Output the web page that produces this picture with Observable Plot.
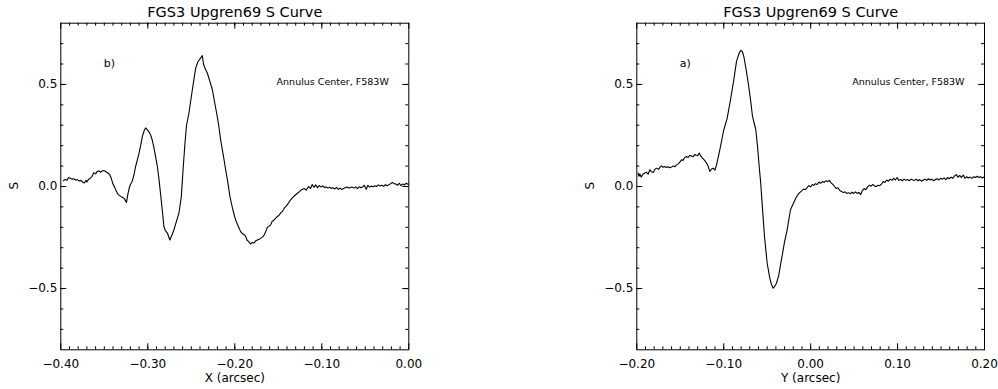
<!DOCTYPE html>
<html>
<head>
<meta charset="utf-8">
<script src="https://cdn.jsdelivr.net/npm/d3@7"></script>
<script src="https://cdn.jsdelivr.net/npm/@observablehq/plot@0.6"></script>
<style>
  body { margin: 0; background: #fff; }
  #wrap { position: relative; width: 998px; height: 389px; background: #fff; overflow: hidden; }
  #wrap > svg { position: absolute; top: 0; }
</style>
</head>
<body>
<div id="wrap"></div>
<script>
// ---------- data ----------
const titleText = "FGS3 Upgren69 S Curve";
const annotText = "Annulus Center, F583W";
const yLabelText = "S";

// Panel b): S curve along X
const xPosB = [-0.397,-0.395,-0.393,-0.391,-0.389,-0.387,-0.385,-0.383,-0.381,-0.379,-0.377,-0.375,-0.373,-0.371,-0.370,-0.368,-0.366,-0.364,-0.362,-0.360,-0.358,-0.356,-0.354,-0.352,-0.350,-0.348,-0.346,-0.344,-0.342,-0.340,-0.338,-0.336,-0.334,-0.332,-0.330,-0.328,-0.326,-0.3245,-0.323,-0.3215,-0.320,-0.318,-0.316,-0.314,-0.312,-0.310,-0.308,-0.306,-0.304,-0.3025,-0.301,-0.299,-0.297,-0.295,-0.293,-0.291,-0.289,-0.287,-0.285,-0.283,-0.2815,-0.280,-0.2775,-0.2746,-0.272,-0.270,-0.267,-0.2642,-0.2615,-0.2592,-0.2575,-0.2555,-0.2527,-0.2488,-0.245,-0.2425,-0.2405,-0.2385,-0.2373,-0.236,-0.2347,-0.233,-0.2316,-0.229,-0.2258,-0.2235,-0.2209,-0.2185,-0.2163,-0.2135,-0.2105,-0.208,-0.2056,-0.203,-0.2002,-0.1985,-0.197,-0.1955,-0.1933,-0.191,-0.189,-0.1875,-0.186,-0.184,-0.1818,-0.180,-0.178,-0.176,-0.174,-0.172,-0.170,-0.168,-0.1665,-0.1645,-0.1626,-0.1605,-0.1588,-0.157,-0.155,-0.153,-0.151,-0.149,-0.147,-0.1453,-0.143,-0.141,-0.139,-0.137,-0.1358,-0.133,-0.131,-0.128,-0.126,-0.124,-0.1223,-0.120,-0.118,-0.1165,-0.115,-0.113,-0.111,-0.109,-0.107,-0.105,-0.103,-0.101,-0.099,-0.097,-0.095,-0.093,-0.091,-0.089,-0.087,-0.085,-0.083,-0.081,-0.079,-0.077,-0.075,-0.073,-0.071,-0.069,-0.067,-0.065,-0.063,-0.061,-0.059,-0.057,-0.055,-0.053,-0.051,-0.049,-0.047,-0.045,-0.043,-0.041,-0.039,-0.037,-0.035,-0.033,-0.031,-0.029,-0.027,-0.025,-0.023,-0.021,-0.019,-0.017,-0.015,-0.013,-0.011,-0.009,-0.007,-0.005,-0.003,-0.001,0.000];
const sValB = [0.028,0.035,0.030,0.044,0.040,0.036,0.038,0.031,0.034,0.027,0.030,0.022,0.017,0.030,0.022,0.036,0.041,0.050,0.068,0.062,0.074,0.076,0.070,0.078,0.077,0.072,0.066,0.060,0.040,0.012,-0.005,-0.025,-0.040,-0.046,-0.052,-0.056,-0.066,-0.078,-0.040,-0.010,0.010,0.025,0.055,0.098,0.130,0.165,0.205,0.250,0.275,0.287,0.280,0.270,0.255,0.229,0.190,0.145,0.098,0.030,-0.049,-0.130,-0.196,-0.215,-0.228,-0.262,-0.235,-0.212,-0.170,-0.130,-0.050,0.098,0.200,0.300,0.360,0.474,0.580,0.610,0.622,0.634,0.641,0.600,0.584,0.568,0.556,0.520,0.474,0.420,0.360,0.300,0.229,0.160,0.082,0.020,-0.049,-0.100,-0.147,-0.170,-0.185,-0.200,-0.221,-0.232,-0.236,-0.245,-0.262,-0.270,-0.282,-0.274,-0.277,-0.266,-0.262,-0.258,-0.253,-0.247,-0.240,-0.222,-0.200,-0.194,-0.188,-0.170,-0.165,-0.155,-0.147,-0.140,-0.128,-0.122,-0.105,-0.096,-0.085,-0.072,-0.065,-0.052,-0.044,-0.033,-0.026,-0.018,-0.013,-0.010,-0.018,-0.008,0.000,-0.010,0.010,-0.004,0.008,-0.006,0.004,-0.002,0.003,-0.005,-0.002,-0.008,-0.003,-0.010,-0.006,-0.012,-0.004,-0.014,-0.008,-0.015,-0.010,-0.006,-0.002,-0.008,-0.004,-0.003,-0.008,-0.002,-0.010,-0.001,-0.006,-0.002,0.006,-0.014,0.006,-0.003,0.002,-0.001,0.004,0.000,0.008,0.003,0.006,0.001,0.009,0.004,0.008,0.013,0.020,0.014,0.012,0.006,0.016,0.004,0.012,0.008,0.016,0.011,0.012];

// Panel a): S curve along Y
const yPosA = [-0.1985,-0.1975,-0.1965,-0.195,-0.193,-0.1908,-0.189,-0.187,-0.185,-0.183,-0.181,-0.179,-0.1773,-0.175,-0.173,-0.1716,-0.170,-0.168,-0.1658,-0.164,-0.162,-0.1601,-0.158,-0.156,-0.1543,-0.152,-0.150,-0.1486,-0.147,-0.145,-0.1428,-0.141,-0.139,-0.1371,-0.135,-0.1335,-0.1321,-0.130,-0.1282,-0.1265,-0.1244,-0.122,-0.1198,-0.118,-0.116,-0.114,-0.1121,-0.110,-0.1083,-0.1045,-0.0999,-0.096,-0.0922,-0.0884,-0.0853,-0.0825,-0.0804,-0.0785,-0.0769,-0.0745,-0.0718,-0.069,-0.0669,-0.0631,-0.0610,-0.0592,-0.0575,-0.0557,-0.0531,-0.050,-0.047,-0.045,-0.0431,-0.0412,-0.0393,-0.0366,-0.0347,-0.0328,-0.030,-0.0270,-0.0232,-0.0194,-0.0174,-0.0155,-0.0135,-0.0117,-0.0100,-0.0080,-0.0060,-0.0040,-0.0020,0.0000,0.0020,0.0036,0.0055,0.0075,0.0095,0.0115,0.0135,0.0155,0.0175,0.0195,0.0215,0.0235,0.0255,0.0275,0.0295,0.0315,0.0335,0.0355,0.0375,0.0395,0.0415,0.0435,0.0455,0.0475,0.0495,0.0515,0.0535,0.0555,0.0575,0.0595,0.0615,0.0635,0.0655,0.0675,0.0695,0.0715,0.0735,0.0755,0.0775,0.0795,0.0815,0.0835,0.0855,0.0875,0.0895,0.0915,0.0935,0.0955,0.0975,0.0995,0.1015,0.1035,0.1055,0.1075,0.1095,0.1115,0.1135,0.1155,0.1175,0.1195,0.1215,0.1235,0.1255,0.1275,0.1295,0.1315,0.1335,0.1355,0.1375,0.1395,0.1415,0.1435,0.1455,0.1475,0.1495,0.1515,0.1535,0.1555,0.1575,0.1595,0.1615,0.1635,0.1655,0.1675,0.1695,0.1715,0.1735,0.1755,0.1775,0.1795,0.1815,0.1835,0.1855,0.1875,0.1895,0.1915,0.1935,0.1955,0.1975,0.1995];
const sValA = [0.066,0.050,0.062,0.046,0.060,0.066,0.070,0.060,0.082,0.072,0.069,0.085,0.090,0.084,0.096,0.101,0.094,0.098,0.093,0.097,0.092,0.095,0.100,0.097,0.106,0.112,0.122,0.131,0.128,0.140,0.147,0.142,0.152,0.150,0.146,0.156,0.155,0.150,0.164,0.150,0.139,0.128,0.115,0.100,0.074,0.086,0.090,0.080,0.106,0.180,0.278,0.335,0.425,0.523,0.613,0.650,0.667,0.660,0.637,0.580,0.507,0.420,0.343,0.278,0.190,0.098,0.020,-0.090,-0.245,-0.376,-0.449,-0.480,-0.498,-0.488,-0.474,-0.433,-0.384,-0.340,-0.270,-0.212,-0.114,-0.078,-0.060,-0.045,-0.034,-0.026,-0.020,-0.012,-0.016,-0.004,0.004,-0.002,0.010,0.006,0.014,0.010,0.022,0.016,0.024,0.020,0.028,0.024,0.030,0.018,0.010,0.000,-0.010,-0.006,-0.020,-0.024,-0.030,-0.026,-0.034,-0.030,-0.036,-0.028,-0.034,-0.026,-0.034,-0.028,-0.040,-0.020,-0.010,-0.016,-0.002,0.006,0.002,0.010,0.002,0.000,0.006,0.004,0.012,0.024,0.020,0.032,0.026,0.036,0.030,0.040,0.032,0.044,0.030,0.034,0.028,0.036,0.030,0.034,0.028,0.036,0.032,0.030,0.036,0.028,0.034,0.026,0.032,0.036,0.030,0.038,0.032,0.036,0.028,0.034,0.038,0.032,0.040,0.036,0.042,0.034,0.044,0.038,0.046,0.040,0.052,0.058,0.046,0.054,0.044,0.056,0.040,0.048,0.042,0.046,0.040,0.048,0.044,0.050,0.044,0.048,0.042,0.046];

// ticks and labels
const xTicksB = [-0.40, -0.30, -0.20, -0.10, 0.00];
const xTicksA = [-0.20, -0.10, 0.00, 0.10, 0.20];
const yTicks = [-0.5, 0.0, 0.5];
const yDomain = [-0.8, 0.8];

// ---------- layout ----------
const H = 389, MT = 22.7, MB = 39.7;
const FH = H - MT - MB;

function panel({pos, val, xDomain, xTicks, xLabel, tag, width, ml, mr, left}) {
  const FW = width - ml - mr;
  const data = pos.map((p, i) => ({p, s: val[i]}));
  const step = 0.01;
  const n = Math.round((xDomain[1] - xDomain[0]) / step);
  const xMinor = d3.range(1, n).map(i => +(xDomain[0] + i * step).toFixed(3));
  const yMinor = d3.range(-7, 8).map(i => +(i * 0.1).toFixed(2));
  const svg = Plot.plot({
    width, height: H,
    marginLeft: ml, marginRight: mr, marginTop: MT, marginBottom: MB,
    style: {fontFamily: "DejaVu Sans", fontSize: "12px", background: "white", color: "black"},
    x: {domain: xDomain},
    y: {domain: yDomain},
    marks: [
      Plot.tickX(xMinor, {x: d => d, insetTop: FH - 3, stroke: "black"}),
      Plot.tickX(xMinor, {x: d => d, insetBottom: FH - 3, stroke: "black"}),
      Plot.tickX(xTicks, {x: d => d, insetTop: FH - 6, stroke: "black"}),
      Plot.tickX(xTicks, {x: d => d, insetBottom: FH - 6, stroke: "black"}),
      Plot.tickY(yMinor, {y: d => d, insetRight: FW - 3, stroke: "black"}),
      Plot.tickY(yMinor, {y: d => d, insetLeft: FW - 3, stroke: "black"}),
      Plot.tickY(yTicks, {y: d => d, insetRight: FW - 6, stroke: "black"}),
      Plot.tickY(yTicks, {y: d => d, insetLeft: FW - 6, stroke: "black"}),
      Plot.axisX({ticks: xTicks, tickSize: 0, tickPadding: 9.5, tickFormat: d3.format(".2f"), label: null, fontSize: 12}),
      Plot.axisY({ticks: yTicks, tickSize: 0, tickPadding: 3.5, tickFormat: d3.format(".1f"), label: null, fontSize: 12}),
      Plot.frame({stroke: "black", strokeWidth: 1}),
      Plot.line(data, {x: "p", y: "s", stroke: "black", strokeWidth: 1.1}),
      Plot.text([titleText], {text: d => d, frameAnchor: "top", lineAnchor: "bottom", dy: -6.2, fontSize: 14.5}),
      Plot.text([annotText], {text: d => d, frameAnchor: "top-right", textAnchor: "end", lineAnchor: "bottom", dx: -20, dy: 61.3, fontSize: 9.5}),
      Plot.text([tag], {text: d => d, frameAnchor: "top-left", textAnchor: "start", lineAnchor: "bottom", dx: 43, dy: 44, fontSize: 11}),
      Plot.text([xLabel], {text: d => d, frameAnchor: "bottom", lineAnchor: "bottom", dy: 31.7, fontSize: 12}),
      Plot.text([yLabelText], {text: d => d, frameAnchor: "left", rotate: -90, dx: -46.3, dy: 3, fontSize: 12})
    ]
  });
  svg.style.left = left + "px";
  return svg;
}

const wrap = document.getElementById("wrap");
wrap.appendChild(panel({pos: xPosB, val: sValB, xDomain: [-0.4, 0], xTicks: xTicksB, xLabel: "X (arcsec)", tag: "b)", width: 430, ml: 60.3, mr: 21.7, left: 0}));
wrap.appendChild(panel({pos: yPosA, val: sValA, xDomain: [-0.2, 0.2], xTicks: xTicksA, xLabel: "Y (arcsec)", tag: "a)", width: 418, ml: 56.3, mr: 14, left: 580}));
</script>
</body>
</html>
